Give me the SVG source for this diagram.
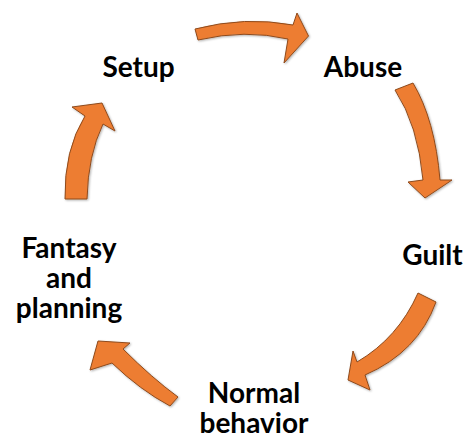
<svg xmlns="http://www.w3.org/2000/svg" width="467" height="439" viewBox="0 0 467 439">
  <style>
    .arrow { fill: #ED7D31; stroke: #8E4A1C; stroke-width: 1; stroke-linejoin: miter; }
    .label { font-family: Lato, "Open Sans", sans-serif; font-weight: bold; font-size: 28px; fill: #000000; text-anchor: middle; }
  </style>
  <defs>
    <filter id="shadow" x="-20%" y="-20%" width="140%" height="140%">
      <feDropShadow dx="1" dy="1" stdDeviation="0.8" flood-color="#000000" flood-opacity="0.3"/>
    </filter>
  </defs>
  <rect width="467" height="439" fill="#FFFFFF"/>

  <g id="connectors" filter="url(#shadow)">
    <path id="arrow-setup-abuse" class="arrow" d="M 195,29 Q 245,16 293,25 L 297,13 L 308.5,36 L 284,63 L 288,39 Q 245,29 198,40 Z"/>
    <path id="arrow-abuse-guilt" class="arrow" d="M 395,90 Q 418,125 423,180 L 408,182 L 425,198 L 452,180 L 440,180 Q 435,120 413,83 Z"/>
    <path id="arrow-guilt-normal" class="arrow" d="M 418,293 Q 398,338 357,362 L 353,351 L 348,380 L 370,390 L 365,375 Q 418,352 436,302 Z"/>
    <path id="arrow-normal-fantasy" class="arrow" d="M 178,397 Q 152,378 123,349 L 130,343 L 98,341 L 90,370 L 112,363 Q 140,390 170,406 Z"/>
    <path id="arrow-fantasy-setup" class="arrow" d="M 65,199 Q 64,150 85,116 L 72,107 L 102,103 L 115,131 L 103,124 Q 88,155 87,199 Z"/>
  </g>

  <g id="node-setup"><text class="label" x="138.5" y="77">Setup</text></g>
  <g id="node-abuse"><text class="label" x="363" y="77">Abuse</text></g>
  <g id="node-guilt"><text class="label" x="432.5" y="265">Guilt</text></g>
  <g id="node-normal">
    <text class="label" x="254" y="403">Normal</text>
    <text class="label" x="254" y="433">behavior</text>
  </g>
  <g id="node-fantasy">
    <text class="label" x="69" y="258">Fantasy</text>
    <text class="label" x="69" y="288">and</text>
    <text class="label" x="69" y="318">planning</text>
  </g>
</svg>
